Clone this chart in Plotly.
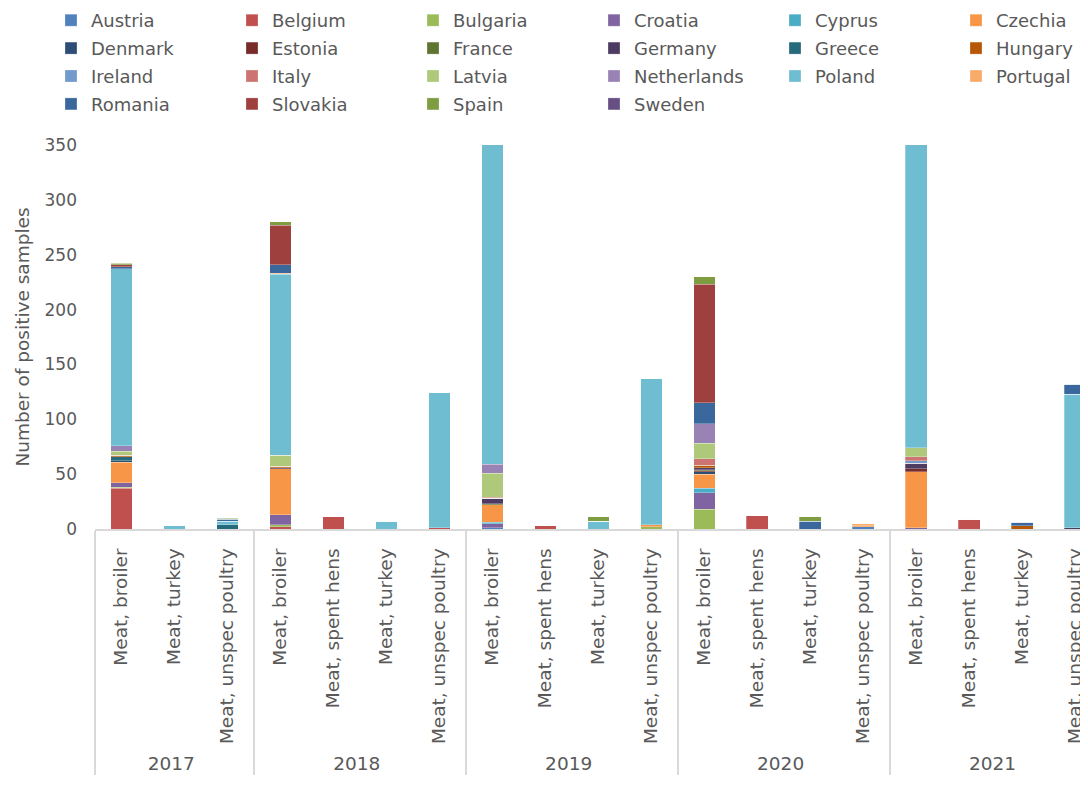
import plotly.graph_objects as go

years = ["2017"] * 3 + ["2018"] * 4 + ["2019"] * 4 + ["2020"] * 4 + ["2021"] * 4
types = (["Meat, broiler", "Meat, turkey", "Meat, unspec poultry"]
         + ["Meat, broiler", "Meat, spent hens", "Meat, turkey", "Meat, unspec poultry"] * 4)
type_order = ["Meat, broiler", "Meat, spent hens", "Meat, turkey", "Meat, unspec poultry"]

countries = ["Austria", "Belgium", "Bulgaria", "Croatia", "Cyprus", "Czechia",
             "Denmark", "Estonia", "France", "Germany", "Greece", "Hungary",
             "Ireland", "Italy", "Latvia", "Netherlands", "Poland", "Portugal",
             "Romania", "Slovakia", "Spain", "Sweden"]

#            17b 17t 17u 18b 18s 18t 18u 19b 19s 19t 19u 20b 20s 20t 20u 21b 21s 21t 21u
austria     = [0,  0,  0,  0,  0,  0,  0,  1,  0,  0,  0,  0,  0,  0,  2,  0,  0,  0,  0]
belgium     = [37, 0,  0,  2, 11,  0,  1,  0,  3,  0,  0,  0, 12,  0,  0,  0,  9,  0,  0]
bulgaria    = [1,  0,  0,  2,  0,  0,  0,  0,  0,  0,  2, 18,  0,  0,  0,  0,  0,  0,  0]
croatia     = [4,  0,  0,  9,  0,  0,  0,  4,  0,  0,  0, 15,  0,  0,  0,  1,  0,  0,  0]
cyprus      = [0,  0,  0,  0,  0,  0,  0,  1,  0,  0,  0,  4,  0,  0,  0,  0,  0,  0,  0]
czechia     = [19, 0,  0, 42,  0,  0,  0, 16,  0,  0,  2, 13,  0,  0,  1, 51,  0,  0,  0]
denmark     = [1,  0,  0,  0,  0,  0,  0,  0,  0,  0,  0,  2,  0,  0,  0,  0,  0,  0,  0]
estonia     = [0,  0,  0,  0,  0,  0,  0,  0,  0,  0,  0,  1,  0,  0,  0,  3,  0,  0,  0]
france      = [0,  0,  0,  0,  0,  0,  0,  1,  0,  0,  0,  1,  0,  0,  0,  0,  0,  0,  0]
germany     = [0,  0,  0,  1,  0,  0,  0,  5,  0,  0,  0,  2,  0,  0,  0,  5,  0,  0,  1]
greece      = [4,  0,  4,  0,  0,  0,  0,  0,  0,  0,  0,  0,  0,  0,  0,  0,  0,  0,  0]
hungary     = [1,  0,  0,  1,  0,  0,  0,  0,  0,  0,  0,  2,  0,  0,  0,  0,  0,  3,  0]
ireland     = [0,  0,  0,  0,  0,  0,  0,  0,  0,  0,  0,  0,  0,  0,  0,  2,  0,  0,  0]
italy       = [0,  0,  0,  0,  0,  0,  0,  1,  0,  0,  0,  6,  0,  0,  0,  4,  0,  0,  0]
latvia      = [4,  0,  0, 10,  0,  0,  0, 22,  0,  0,  0, 14,  0,  0,  0,  8,  0,  0,  0]
netherlands = [5,  0,  0,  0,  0,  0,  0,  8,  0,  0,  0, 18,  0,  0,  0,  0,  0,  0,  0]
poland      = [161, 3, 3, 165, 0,  7, 123, 310, 0, 7, 133, 0,  0,  0,  0, 300, 0,  0, 122]
portugal    = [0,  0,  0,  1,  0,  0,  0,  0,  0,  0,  0,  0,  0,  0,  2,  0,  0,  0,  0]
romania     = [2,  0,  2,  8,  0,  0,  0,  0,  0,  0,  0, 19,  0,  7,  0,  0,  0,  3,  9]
slovakia    = [2,  0,  0, 36,  0,  0,  0,  0,  0,  0,  0, 108, 0,  0,  0,  0,  0,  0,  0]
spain       = [1,  0,  1,  3,  0,  0,  0,  0,  0,  4,  0,  7,  0,  4,  0,  0,  0,  0,  0]
sweden      = [0,  0,  0,  0,  0,  0,  0,  0,  0,  0,  0,  0,  0,  0,  0,  0,  0,  0,  0]

series = [austria, belgium, bulgaria, croatia, cyprus, czechia, denmark, estonia,
          france, germany, greece, hungary, ireland, italy, latvia, netherlands,
          poland, portugal, romania, slovakia, spain, sweden]

colors = ["#4F81BD", "#C0504D", "#9BBB59", "#8064A2", "#4BACC6", "#F79646",
          "#2C4D75", "#772C2A", "#5F7530", "#4D3B62", "#276A7C", "#B65708",
          "#729ACA", "#CD7371", "#AFC97A", "#9983B5", "#6FBDD1", "#F9AB6B",
          "#3A679C", "#9E413E", "#7E9C40", "#664F82"]

FONT = "DejaVu Sans"
GREY = "#595959"

# page body has an 8px margin: figure is drawn from (8, 8)
W, H = 1080, 777
L, R, T, B = 87, 0, 137, 256
plot_w = W - L - R
plot_h = H - T - B

fig = go.Figure()
# helper (empty) trace that fixes the order of the inner category labels
fig.add_trace(go.Bar(
    x=[["2017", "2018", "2018", "2018"], type_order], y=[0, 0, 0, 0],
    showlegend=False, hoverinfo="skip", marker=dict(color="rgba(0,0,0,0)"),
))

NCOL = 6
legend_ids = ["legend"] + [f"legend{k}" for k in range(2, NCOL + 1)]
for i, (name, vals, col) in enumerate(zip(countries, series, colors)):
    fig.add_trace(go.Bar(
        x=[years, types], y=vals, name=name,
        marker=dict(color=col, line=dict(color="rgba(255,255,255,0.45)", width=0.6)),
        legend=legend_ids[i % NCOL], legendgroup=name,
    ))

col_text_x = [99 + 181 * k for k in range(NCOL)]
legend_top_page = 2
legends = {}
for k, lid in enumerate(legend_ids):
    left_fig = col_text_x[k] - 8 - 48
    legends[lid] = dict(
        orientation="v", xanchor="left", yanchor="top",
        x=(left_fig - L) / plot_w,
        y=1 + (T - (legend_top_page - 8)) / plot_h,
        font=dict(family=FONT, size=18, color=GREY),
        bgcolor="rgba(0,0,0,0)", traceorder="grouped", tracegroupgap=1.5,
        itemclick=False,
    )

fig.update_layout(
    barmode="stack",
    bargap=0.59,
    width=W, height=H,
    margin=dict(l=L, r=R, t=T, b=B, autoexpand=False),
    plot_bgcolor="white", paper_bgcolor="white",
    font=dict(family=FONT, size=16, color=GREY),
    showlegend=True,
    **legends,
)

fig.update_xaxes(
    type="multicategory",
    range=[-0.5, 18.24],
    tickangle=-90,
    ticklabelstandoff=10,
    tickfont=dict(family=FONT, size=18.5, color=GREY),
    showline=True, linecolor="#D9D9D9", linewidth=2,
    showgrid=False, ticks="",
    showdividers=True, dividercolor="#D9D9D9", dividerwidth=2,
)
fig.update_yaxes(
    range=[0, 350], dtick=50,
    showgrid=False, showline=False, zeroline=False, ticks="",
    ticklabelstandoff=17,
    tickfont=dict(family=FONT, size=17, color=GREY),
    title=dict(text="Number of positive samples",
               font=dict(family=FONT, size=18.5, color=GREY), standoff=10),
)

fig.write_html("out.html")
